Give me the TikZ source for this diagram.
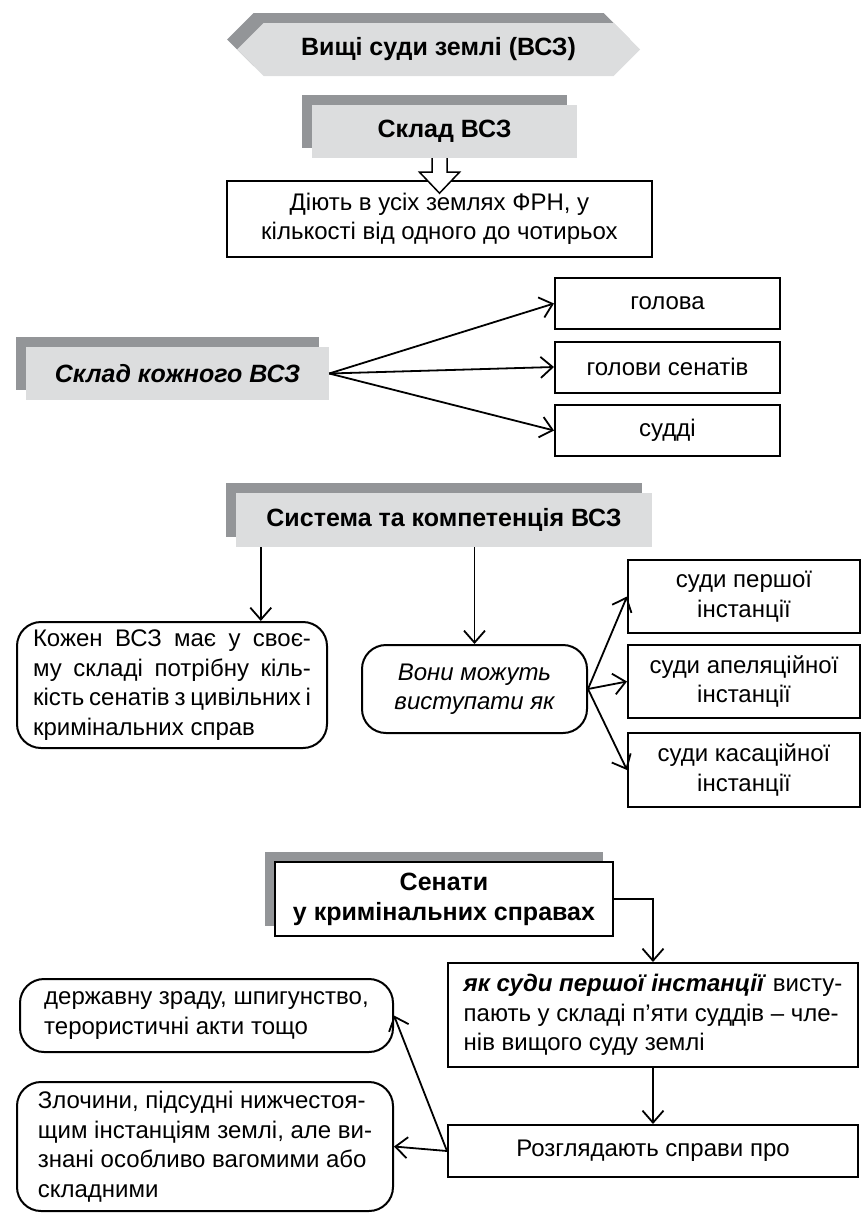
\documentclass[tikz,border=0pt]{standalone}
\usepackage{fontspec}
\setmainfont{Liberation Sans}
\usepackage{tikz}
\usetikzlibrary{arrows.meta,positioning,shapes.symbols,shadows,calc}
\definecolor{shadegray}{RGB}{147,149,152}
\definecolor{panelgray}{RGB}{220,221,222}

\begin{document}
\begin{tikzpicture}[
    x=1pt, y=-1pt,
    every node/.style={font=\fontsize{24}{29.5}\selectfont, inner sep=0pt},
    header/.style={fill=panelgray, general shadow={fill=shadegray, draw=none, shadow xshift=-10pt, shadow yshift=10pt}, font=\fontsize{25}{30}\selectfont\bfseries, align=center},
    block/.style={rectangle, draw=black, line width=2pt, align=center},
    rblock/.style={rectangle, draw=black, line width=2pt, rounded corners=24pt, align=left},
    arrow/.style={-{Straight Barb[length=12pt,width=21pt]}, line width=1.8pt, draw=black}
]
    \useasboundingbox (0,0) rectangle (861,1213);

    \node [header, shape=signal, signal to=west and east, signal pointer angle=90, minimum width=403pt, minimum height=53pt] (vsz) at (438.5,49.5) {Вищі суди землі (ВСЗ)};
    \node [header, minimum width=265pt, minimum height=53pt] (sklad) at (444.5,131.5) {Склад ВСЗ};
    \node [block, minimum width=425pt, minimum height=76pt] (diyut) at (439.5,219) {Діють в усіх землях ФРН, у\\кількості від одного до чотирьох};

    \coordinate (harr) at ([xshift=-5pt]sklad.south);
    \draw [line width=1.5pt, fill=white] ([xshift=-7.5pt]harr) -- ++(0,14) -- ++(-12.5,0) -- ([yshift=-35pt]harr) -- ([xshift=20pt,yshift=-14pt]harr) -- ++(-12.5,0) -- ([xshift=7.5pt]harr);

    \node [header, font=\fontsize{25}{30}\selectfont\bfseries\itshape, minimum width=303pt, minimum height=53pt] (kozh) at (177.5,373.5) {Склад кожного ВСЗ};
    \node [block, minimum width=225pt, minimum height=51pt] (golova) at (667.5,303.5) {голова};
    \node [block, minimum width=225pt, minimum height=51pt] (golsen) at (667.5,367) {голови сенатів};
    \node [block, minimum width=225pt, minimum height=51pt] (suddi) at (667.5,430.5) {судді};

    \node [header, minimum width=416pt, minimum height=54pt] (sys) at (444,520) {Система та компетенція ВСЗ};
    \node [rblock, minimum width=310pt, minimum height=126pt] (kozhen) at (172,685) {\makebox[278pt][s]{Кожен ВСЗ має у своє-}\\\makebox[278pt][s]{му складі потрібну кіль-}\\\makebox[278pt][s]{кість сенатів з цивільних і}\\кримінальних справ};
    \node [rblock, align=center, font=\fontsize{24}{29.5}\selectfont\itshape, minimum width=225pt, minimum height=88pt] (vony) at (474.5,689) {Вони можуть\\виступати як};
    \node [block, minimum width=232pt, minimum height=73pt] (pershoi) at (744,596.5) {суди першої\\інстанції};
    \node [block, minimum width=232pt, minimum height=73pt] (apel) at (744,681.5) {суди апеляційної\\інстанції};
    \node [block, minimum width=232pt, minimum height=74pt] (kasac) at (744,770) {суди касаційної\\інстанції};

    \node [header, fill=white, draw=black, line width=2pt, minimum width=338pt, minimum height=74pt] (senaty) at (444,899) {Сенати\\у кримінальних справах};
    \node [block, align=left, minimum width=410pt, minimum height=104pt] (yak) at (653,1015) {\textbf{\textit{як суди першої інстанції}} висту-\\пають у складі п’яти суддів – чле-\\нів вищого суду землі};
    \node [block, minimum width=410pt, minimum height=52pt] (rozgl) at (653,1151) {Розглядають справи про};
    \node [rblock, minimum width=373pt, minimum height=73pt] (derzh) at (206.5,1015.5) {державну зраду, шпигунство,\\терористичні акти тощо};
    \node [rblock, minimum width=376pt, minimum height=129pt] (zloch) at (205,1146.5) {Злочини, підсудні нижчестоя-\\щим інстанціям землі, але ви-\\знані особливо вагомими або\\складними};

    \coordinate (syl) at ([xshift=25pt]sys.south west);

    \draw [arrow] (kozh.east) -- (golova.west);
    \draw [arrow] (kozh.east) -- (golsen.west);
    \draw [arrow] (kozh.east) -- (suddi.west);
    \draw [arrow] (syl) -- (syl |- kozhen.north);
    \draw [arrow] (vony.north |- sys.south) -- (vony.north);
    \draw [arrow] (vony.east) -- (pershoi.west);
    \draw [arrow] (vony.east) -- (apel.west);
    \draw [arrow] (vony.east) -- (kasac.west);
    \draw [arrow] (senaty.east) -| (yak.north);
    \draw [arrow] (yak.south) -- (rozgl.north);
    \draw [arrow] (rozgl.west) -- (derzh.east);
    \draw [arrow] (rozgl.west) -- (zloch.east);
\end{tikzpicture}
\end{document}
